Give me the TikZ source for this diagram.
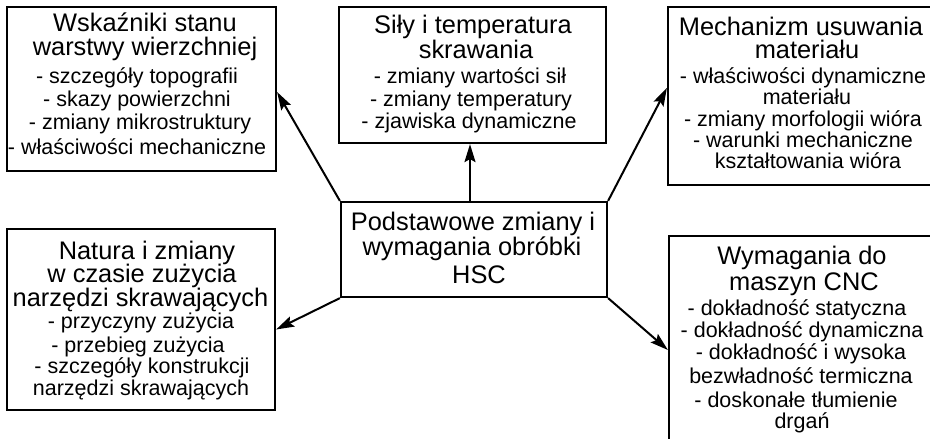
\documentclass[tikz,border=0pt]{standalone}
\usepackage{fontspec}
\setmainfont{Liberation Sans}
\usetikzlibrary{arrows.meta}
\begin{document}
\begin{tikzpicture}[x=1pt,y=-1pt,
  box/.style={draw, line width=2.2pt, inner sep=0pt, rectangle},
  ttl/.style={anchor=base, inner sep=0pt, font=\fontsize{25.4}{28}\selectfont},
  itm/.style={anchor=base, inner sep=0pt, font=\fontsize{21.5}{24}\selectfont},
  arr/.style={line width=2pt, -{Stealth[length=18pt,width=11pt,inset=3pt]}}]
\clip (0,0) rectangle (930,439);
\fill[white] (0,0) rectangle (930,439);

% boxes
\node[box, minimum width=269pt, minimum height=164pt] (tl) at (141.5,89) {};
\node[box, minimum width=267pt, minimum height=136pt] (tc) at (472.5,75) {};
\node[box, minimum width=274pt, minimum height=178pt] (tr) at (805,96) {};
\node[box, minimum width=268pt, minimum height=181pt] (bl) at (141,319.5) {};
\node[box, minimum width=266pt, minimum height=95pt] (c) at (474,249.5) {};
\node[box, minimum width=266pt, minimum height=226pt] (br) at (802,349) {};

% top-left texts
\node[ttl] (tl1) at (145,31) {Wskaźniki stanu};
\node[ttl] (tl2) at (145,55) {warstwy wierzchniej};
\node[itm] (tl3) at (137,83) {- szczegóły topografii};
\node[itm] (tl4) at (137,106) {- skazy powierzchni};
\node[itm] (tl5) at (140,129) {- zmiany mikrostruktury};
\node[itm] (tl6) at (137,154) {- właściwości mechaniczne};

% top-centre texts
\node[ttl] (tc1) at (473,34) {Siły i temperatura};
\node[ttl] (tc2) at (476,58) {skrawania};
\node[itm] (tc3) at (470,83) {- zmiany wartości sił};
\node[itm] (tc4) at (471,106) {- zmiany temperatury};
\node[itm] (tc5) at (469,128) {- zjawiska dynamiczne};

% top-right texts
\node[ttl] (tr1) at (801,35) {Mechanizm usuwania};
\node[ttl] (tr2) at (807,58) {materiału};
\node[itm] (tr3) at (803,83) {- właściwości dynamiczne};
\node[itm] (tr4) at (807,104) {materiału};
\node[itm] (tr5) at (803,126) {- zmiany morfologii wióra};
\node[itm] (tr6) at (803,147) {- warunki mechaniczne};
\node[itm] (tr7) at (808,168) {kształtowania wióra};

% bottom-left texts
\node[ttl] (bl1) at (147,259) {Natura i zmiany};
\node[ttl] (bl2) at (142,282) {w czasie zużycia};
\node[ttl] (bl3) at (140.5,306) {narzędzi skrawających};
\node[itm] (bl4) at (141,328) {- przyczyny zużycia};
\node[itm] (bl5) at (138,352) {- przebieg zużycia};
\node[itm] (bl6) at (142,373) {- szczegóły konstrukcji};
\node[itm] (bl7) at (141,395) {narzędzi skrawających};

% centre texts
\node[ttl] (c1) at (473,230) {Podstawowe zmiany i};
\node[ttl] (c2) at (472,255) {wymagania obróbki};
\node[ttl] (c3) at (479,283) {HSC};

% bottom-right texts
\node[ttl] (br1) at (802,264) {Wymagania do};
\node[ttl] (br2) at (804,290) {maszyn CNC};
\node[itm] (br3) at (797,315) {- dokładność statyczna};
\node[itm] (br4) at (802,337) {- dokładność dynamiczna};
\node[itm] (br5) at (801,359) {- dokładność i wysoka};
\node[itm] (br6) at (801,383) {bezwładność termiczna};
\node[itm] (br7) at (796,407) {- doskonałe tłumienie};
\node[itm] (br8) at (802,428) {drgań};

% connectors
\draw[arr] (c.north west) -- ([yshift=-3pt]tl.east);
\draw[arr] ([xshift=-4pt]c.north) -- ([xshift=-4pt]c.north |- tc.south);
\draw[arr] (c.north east) -- ([yshift=8pt]tr.west);
\draw[arr] (c.south west) -- ([yshift=-10pt]bl.east);
\draw[arr] (c.south east) -- ([yshift=-1pt]br.west);
\end{tikzpicture}
\end{document}
